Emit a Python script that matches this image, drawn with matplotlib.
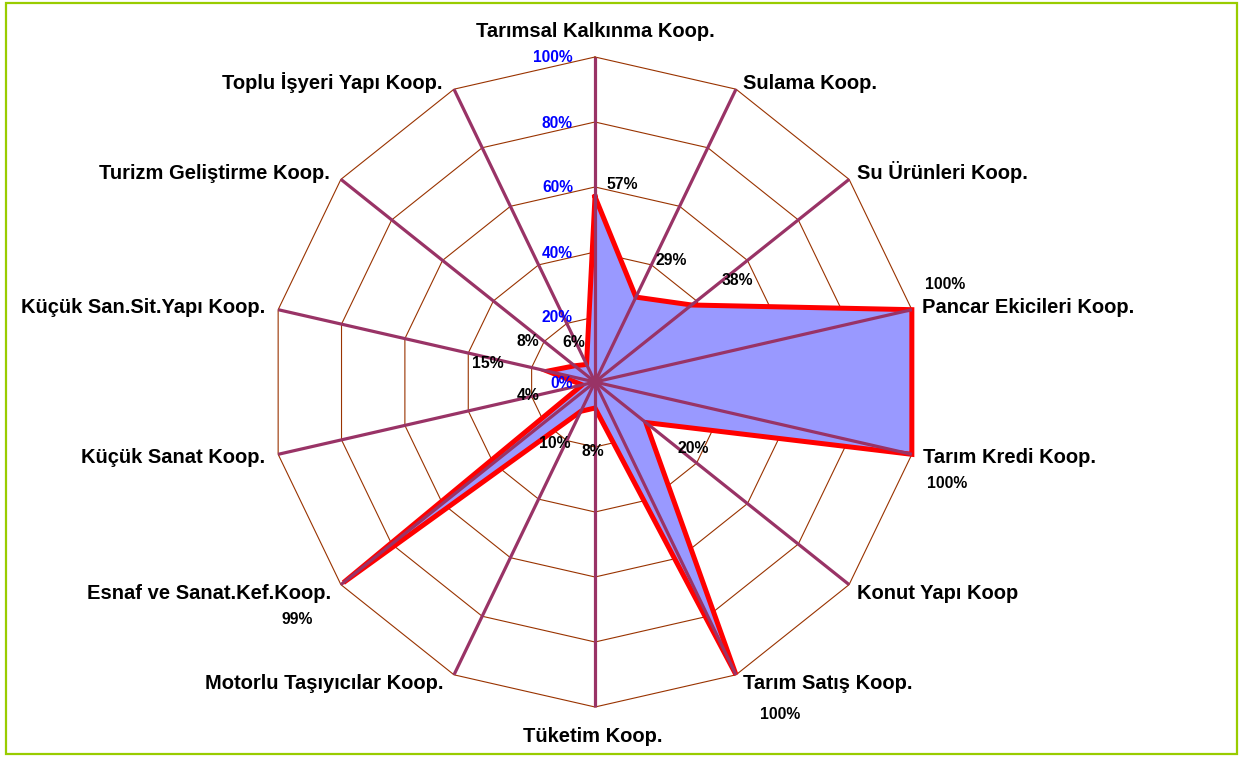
import numpy as np
import matplotlib
matplotlib.use("Agg")
import matplotlib.pyplot as plt
from matplotlib.patches import Rectangle

categories = ["Tarımsal Kalkınma Koop.", "Sulama Koop.", "Su Ürünleri Koop.",
              "Pancar Ekicileri Koop.", "Tarım Kredi Koop.", "Konut Yapı Koop",
              "Tarım Satış Koop.", "Tüketim Koop.", "Motorlu Taşıyıcılar Koop.",
              "Esnaf ve Sanat.Kef.Koop.", "Küçük Sanat Koop.", "Küçük San.Sit.Yapı Koop.",
              "Turizm Geliştirme Koop.", "Toplu İşyeri Yapı Koop."]
values = [57, 29, 38, 100, 100, 20, 100, 8, 10, 99, 4, 15, 8, 6]
tick_values = [0, 20, 40, 60, 80, 100]

# label placement (pixels) - styling only
value_label_offsets = [(27, 13), (35, 38), (46, 26), (33, 26), (35, -28), (47, -25),
                       (44, -39), (-2, -42), (-26, -31), (-46, -36), (-54, -10),
                       (-60, 9), (-47, 25), (-13, 23)]
cat_label_offsets = [(0, 20, "center"), (7, 0, "left"), (8, 0, "left"), (10, -3, "left"),
                     (11, -9, "left"), (8, -14, "left"), (7, -14, "left"),
                     (-2, -35, "center"), (-10, -14, "right"), (-10, -14, "right"),
                     (-13, -9, "right"), (-13, -3, "right"), (-11, 0, "right"),
                     (-11, 0, "right")]

plt.rcParams['font.family'] = ['Liberation Sans', 'DejaVu Sans']

W, H = 1239, 758
fig = plt.figure(figsize=(W / 100, H / 100), dpi=100)
fig.patch.set_facecolor("white")

# green frame
fig.patches.append(Rectangle((6 / W, 4 / H), (1237 - 6) / W, (755 - 4) / H,
                             transform=fig.transFigure, fill=False,
                             edgecolor="#99CC00", linewidth=1.6))

cx, cy, R = 595, 382, 325
ax = fig.add_axes([(cx - R) / W, (H - cy - R) / H, 2 * R / W, 2 * R / H],
                  projection="polar")
ax.set_theta_zero_location("N")
ax.set_theta_direction(-1)
ax.set_ylim(0, 1)
ax.grid(False)
ax.set_xticks([])
ax.set_yticks([])
ax.spines["polar"].set_visible(False)
ax.patch.set_visible(False)

n = len(categories)
theta = np.arange(n) * 2 * np.pi / n
theta_c = np.append(theta, theta[0])

# polygon gridlines
for t in tick_values[1:]:
    ax.plot(theta_c, [t / 100] * (n + 1), color="#993300", lw=0.8, zorder=1,
            clip_on=False)

# data
v = np.array(values) / 100
v_c = np.append(v, v[0])
ax.fill(theta_c, v_c, color="#9999FF", zorder=2, clip_on=False)
ax.plot(theta_c, v_c, color="#FF0000", lw=3.6, zorder=3, solid_joinstyle="miter",
        clip_on=False)

# spokes
for th in theta:
    ax.plot([th, th], [0, 1], color="#993366", lw=2.3, zorder=4, clip_on=False,
            solid_capstyle="butt")

# tick labels (blue)
for t in tick_values:
    ax.annotate(f"{t}%", xy=(0, t / 100), xytext=(-22, -5.5), textcoords="offset pixels",
                ha="right", va="baseline", color="#0000FF", fontsize=11.2,
                fontweight="bold", zorder=5, annotation_clip=False)

# value labels
for th, val, (dx, dy) in zip(theta, values, value_label_offsets):
    ax.annotate(f"{val}%", xy=(th, val / 100), xytext=(dx, dy - 5.6),
                textcoords="offset pixels", ha="center", va="baseline",
                color="black", fontsize=11.3, fontweight="bold", zorder=6,
                annotation_clip=False)

# category labels
for th, lab, (dx, dy, ha) in zip(theta, categories, cat_label_offsets):
    ax.annotate(lab, xy=(th, 1.0), xytext=(dx, dy), textcoords="offset pixels",
                ha=ha, va="baseline", color="black", fontsize=14.5,
                fontweight="bold", zorder=6, annotation_clip=False)

fig.savefig("out.png", dpi=100, facecolor="white")
